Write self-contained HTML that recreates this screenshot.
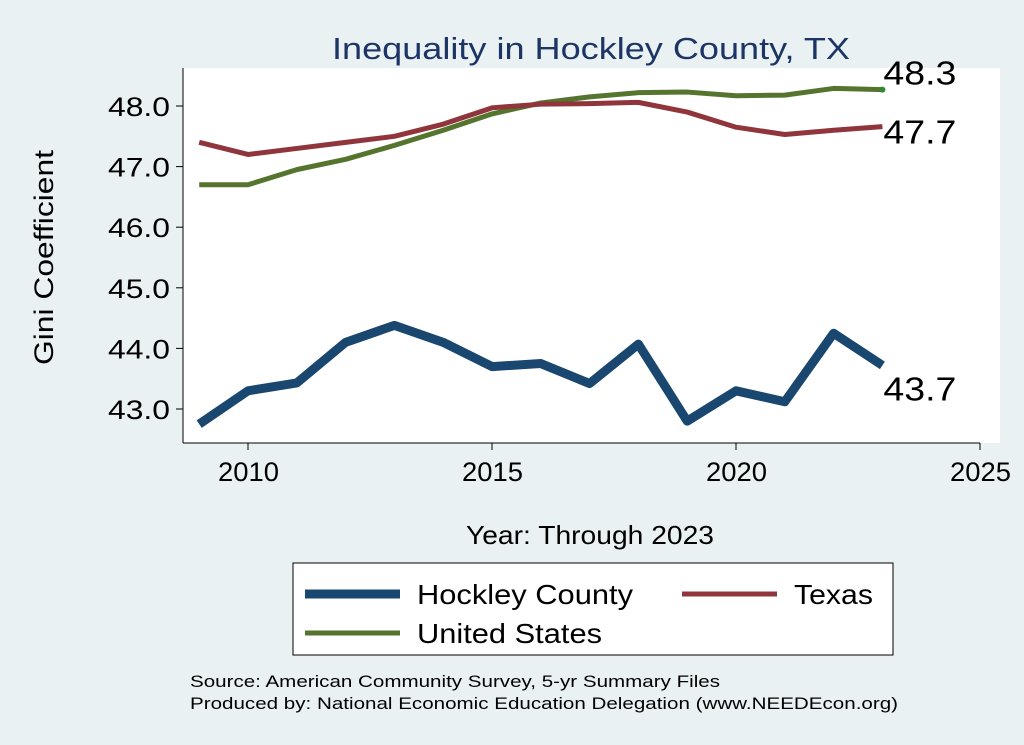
<!DOCTYPE html>
<html><head><meta charset="utf-8"><style>
body{margin:0;background:#eaf1f3;}
svg{display:block;font-family:"Liberation Sans",sans-serif;}
</style></head><body>
<svg id="c" width="1024" height="745">
<rect x="0" y="0" width="1024" height="745" fill="#eaf1f3"/>
<rect x="183" y="68" width="817" height="375" fill="#ffffff"/>
<text x="332" y="59" textLength="518" lengthAdjust="spacingAndGlyphs" font-size="31" fill="#1c3564">Inequality in Hockley County, TX</text>
<line x1="183" y1="68" x2="183" y2="443" stroke="#000"/>
<line x1="183" y1="443" x2="980" y2="443" stroke="#000"/>
<text transform="translate(53,365) rotate(-90)" textLength="215" lengthAdjust="spacingAndGlyphs" font-size="27">Gini Coefficient</text>
<text x="466" y="544" textLength="248" lengthAdjust="spacingAndGlyphs" font-size="26">Year: Through 2023</text>
<g id="ticks"></g>
<g id="series"></g>
<rect x="293" y="563" width="600" height="92" fill="#fff" stroke="#000"/>
<g><line x1="305" y1="594" x2="400" y2="594" stroke="#1a476f" stroke-width="9"/><text x="417" y="604" font-size="28" textLength="216" lengthAdjust="spacingAndGlyphs">Hockley County</text></g>
<g><line x1="682" y1="594" x2="777" y2="594" stroke="#90353b" stroke-width="5"/><text x="794" y="604" font-size="28" textLength="79" lengthAdjust="spacingAndGlyphs">Texas</text></g>
<g><line x1="305" y1="633" x2="400" y2="633" stroke="#55752f" stroke-width="5"/><text x="417" y="643" font-size="28" textLength="185" lengthAdjust="spacingAndGlyphs">United States</text></g>
<text x="190" y="687" font-size="17" textLength="530" lengthAdjust="spacingAndGlyphs">Source: American Community Survey, 5-yr Summary Files</text>
<text x="190" y="709" font-size="17" textLength="708" lengthAdjust="spacingAndGlyphs">Produced by: National Economic Education Delegation (www.NEEDEcon.org)</text>
</svg>
<script>
const years=[2009,2010,2011,2012,2013,2014,2015,2016,2017,2018,2019,2020,2021,2022,2023];
const hockley=[42.75,43.3,43.43,44.1,44.38,44.1,43.7,43.75,43.42,44.07,42.8,43.3,43.12,44.25,43.72];
const texas=[47.4,47.2,47.3,47.4,47.5,47.7,47.97,48.03,48.04,48.06,47.9,47.65,47.53,47.6,47.66];
const us=[46.7,46.7,46.95,47.12,47.35,47.6,47.87,48.05,48.15,48.22,48.23,48.17,48.18,48.29,48.27];
const yTicks=[43,44,45,46,47,48];
const xTicks=[2010,2015,2020,2025];
const NS="http://www.w3.org/2000/svg";
const X=v=>248+(v-2010)*48.8;
const Y=v=>409-(v-43)*60.6;
const tg=document.getElementById('ticks'), sg=document.getElementById('series');
function mk(tag,attrs,parent){const e=document.createElementNS(NS,tag);for(const k in attrs)e.setAttribute(k,attrs[k]);parent.appendChild(e);return e;}
yTicks.forEach(t=>{
 const l=mk('line',{x1:176,x2:183,y1:Y(t),y2:Y(t),stroke:'#000'},tg);
 
 
 const tx=mk('text',{x:108,y:Y(t)+10,'font-size':'27',textLength:62,lengthAdjust:'spacingAndGlyphs'},tg);tx.textContent=t.toFixed(1);
 
 
});
xTicks.forEach(t=>{
 const l=mk('line',{x1:X(t),x2:X(t),y1:443,y2:450,stroke:'#000'},tg);
 
 
 const tx=mk('text',{x:X(t)-30,y:481,'font-size':'27',textLength:61,lengthAdjust:'spacingAndGlyphs'},tg);tx.textContent=t;
 
 
});
function line(vals,color,w,name){
 const p=mk('polyline',{points:vals.map((v,i)=>X(years[i])+','+Y(v)).join(' '),fill:'none',stroke:color,'stroke-width':w,'stroke-linejoin':'round'},sg);
 
 
}
line(us,'#55752f',5,'us-line');
line(texas,'#90353b',5,'texas-line');
line(hockley,'#1a476f',9,'hockley-line');
const n=years.length-1;
const dot=mk('circle',{cx:X(years[n]),cy:Y(us[n]),r:3,fill:'#2e8b2e'},sg);


[[us,-5,'us-end-label'],[texas,+17,'texas-end-label'],[hockley,+35,'hockley-end-label']].forEach(([a,dy,nm])=>{
 const t=mk('text',{x:X(years[n])+1,y:Y(a[n])+dy,'font-size':'33',textLength:73,lengthAdjust:'spacingAndGlyphs'},sg);t.textContent=a[n].toFixed(1);
 
 
});
</script>
</body></html>
